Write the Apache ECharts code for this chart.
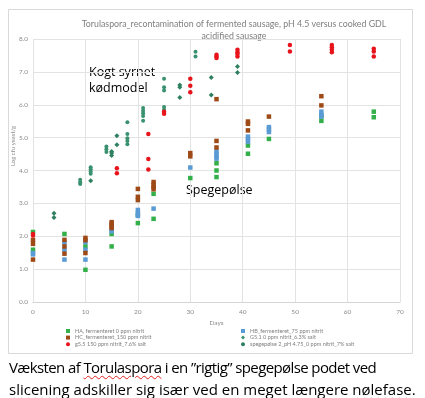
<!DOCTYPE html>
<html lang="da">
<head>
    <meta charset="UTF-8">
    <title>Torulaspora recontamination</title>
    <script src="https://cdn.jsdelivr.net/npm/echarts@6/dist/echarts.min.js"></script>
    <style>
        body {
            margin: 0;
            background: #fff;
        }

        #chart {
            position: absolute;
            left: 0;
            top: 0;
            width: 425px;
            height: 398px;
        }

        .caption {
            position: absolute;
            left: 9px;
            top: 356px;
            width: 416px;
            font-family: "Open Sans", sans-serif;
            font-size: 15px;
            line-height: 22px;
            color: #000;
            white-space: nowrap;
        }

        .caption .l1 { letter-spacing: -0.6px; }
        .caption .l2 { letter-spacing: 0; }

        .caption u {
            text-decoration: underline wavy #e02020;
            text-decoration-thickness: 1px;
            text-underline-offset: 2px;
        }
    </style>
</head>
<body>
    <div id="chart"></div>
    <div class="caption">
        <span class="l1">Væksten af <u>Torulaspora</u> i en ”rigtig” spegepølse podet ved</span><br>
        <span class="l2"><u>slicening</u> adskiller sig især ved en meget længere <u>nølefase</u>.</span>
    </div>

    <script>
        // data: [day, log cfu/g]
        const haData = [
            [0, 2.13], [0, 1.59], [6, 2.07], [10, 1.69], [10, 0.98],
            [15, 2.07], [15, 1.69], [20, 2.65], [20, 2.40], [23, 3.29], [23, 2.53],
            [30, 3.77], [35, 4.22], [35, 4.00], [35, 3.80], [41, 4.76], [41, 4.51],
            [45, 4.96], [55, 5.66], [55, 5.51], [65, 5.79], [65, 5.62]
        ];
        const hbData = [
            [0, 1.49], [0, 1.45], [6, 1.81], [6, 1.59], [6, 1.29],
            [10, 1.82], [10, 1.59], [10, 1.29], [15, 2.20], [15, 2.15],
            [20, 2.80], [20, 2.70], [20, 2.62], [23, 2.84], [30, 4.09],
            [35, 4.58], [35, 4.50], [35, 4.42], [35, 4.36],
            [41, 5.03], [41, 4.95], [41, 4.88], [45, 5.32], [45, 5.25], [45, 5.17],
            [55, 5.79], [55, 5.69], [55, 5.64]
        ];
        const hcData = [
            [0, 1.89], [0, 1.77], [0, 1.29], [6, 1.89], [6, 1.69], [6, 1.47],
            [10, 1.95], [10, 1.88], [10, 1.49], [15, 2.43], [15, 2.37], [15, 2.31], [15, 2.25],
            [20, 3.44], [20, 3.20], [20, 3.10], [23, 3.65], [23, 3.57], [23, 3.50], [23, 3.43],
            [30, 4.53], [30, 4.43], [35, 6.17], [35, 4.90], [35, 4.70],
            [41, 5.49], [41, 5.42], [41, 5.22], [45, 5.64], [55, 6.26], [55, 5.98]
        ];
        const g55Data = [
            [0, 2.07], [0, 2.02], [16, 4.07], [16, 3.92], [22, 5.11], [22, 4.35], [22, 4.03],
            [25, 5.79], [25, 5.73], [30, 6.79], [30, 6.58], [30, 6.38],
            [35, 7.52], [35, 7.47], [35, 7.42], [39, 7.67], [39, 7.60], [39, 7.54], [39, 7.47],
            [49, 7.82], [49, 7.62], [57, 7.82], [57, 7.75], [57, 7.67], [57, 7.60],
            [65, 7.70], [65, 7.62], [65, 7.47]
        ];
        const g51Data = [
            [9, 3.72], [9, 3.64], [9, 3.59], [11, 4.10], [11, 4.04], [11, 3.97], [11, 3.90],
            [14, 4.73], [14, 4.65], [14, 4.56], [18, 5.47], [18, 5.11], [18, 4.98], [18, 4.90], [18, 4.80],
            [21, 5.90], [21, 5.82], [21, 5.74], [21, 5.66], [21, 5.51],
            [25, 6.79], [25, 6.53], [25, 6.43], [25, 5.93], [25, 5.85], [31, 7.61], [31, 7.47]
        ];
        const speg2Data = [
            [4, 2.70], [4, 2.57], [11, 3.69], [15, 4.58], [15, 4.53], [15, 4.46],
            [16, 5.06], [16, 4.78], [28, 6.60], [28, 6.53], [28, 6.22],
            [34, 6.83], [34, 6.30], [39, 7.16], [39, 6.98]
        ];

        const seriesNames = [
            'HA, fermenteret 0 ppm nitrit',
            'HB_fermenteret_75 ppm nitrit',
            'HC_fermenteret_150 ppm nitrit',
            'G5.1 0 ppm nitrit_6.3% salt',
            'g5.5 150 ppm nitrit_7.6% salt',
            'spegepølse 2_pH 4.75_0 ppm nitrit_7% salt'
        ];
        const titleLines = [
            'Torulaspora_recontamination of fermented sausage, pH 4.5 versus cooked GDL',
            'acidified sausage'
        ];

        const gray = '#8c8c8c';
        const gridColor = '#e3e3e3';

        function scatter(name, data, symbol, size, color) {
            return {
                name: name,
                type: 'scatter',
                data: data,
                symbol: symbol,
                symbolSize: size,
                itemStyle: { color: color, opacity: 1 },
                emphasis: { disabled: true }
            };
        }

        const legendStyle = {
            orient: 'vertical',
            top: 328,
            itemWidth: 4,
            itemHeight: 4,
            itemGap: 0.6,
            padding: 0,
            textStyle: { fontSize: 5.5, lineHeight: 5, color: '#7f7f7f', fontFamily: 'Lato' }
        };

        const chart = echarts.init(document.getElementById('chart'));
        chart.setOption({
            animation: false,
            grid: { left: 33, right: 25, top: 39, bottom: 96 },
            xAxis: {
                type: 'value',
                min: 0, max: 70, interval: 10,
                name: 'Days',
                nameLocation: 'middle',
                nameGap: 15,
                nameTextStyle: { fontSize: 6.5, color: gray, fontFamily: 'Lato' },
                axisLine: { show: true, lineStyle: { color: '#d4d4d4' } },
                axisTick: { show: false },
                axisLabel: { fontSize: 6.5, color: gray, margin: 6, fontFamily: 'Lato' },
                splitLine: { show: true, lineStyle: { color: gridColor } }
            },
            yAxis: {
                type: 'value',
                min: 0, max: 8, interval: 1,
                axisLine: { show: false },
                axisTick: { show: false },
                axisLabel: {
                    fontSize: 6.5, color: gray, margin: 5, fontFamily: 'Lato',
                    formatter: v => v.toFixed(1)
                },
                splitLine: { show: true, lineStyle: { color: gridColor } }
            },
            legend: [
                Object.assign({}, legendStyle, {
                    left: 66,
                    data: [
                        { name: seriesNames[0], icon: 'rect' },
                        { name: seriesNames[2], icon: 'rect' },
                        { name: seriesNames[4], icon: 'circle' }
                    ]
                }),
                Object.assign({}, legendStyle, {
                    left: 241,
                    data: [
                        { name: seriesNames[1], icon: 'rect' },
                        { name: seriesNames[3], icon: 'diamond' },
                        { name: seriesNames[5], icon: 'circle' }
                    ]
                })
            ],
            graphic: [
                {
                    type: 'rect', silent: true, z: -10,
                    shape: { x: 8.5, y: 9.5, width: 404, height: 344 },
                    style: { fill: '#fff', stroke: '#d9d9d9', lineWidth: 1 }
                },
                {
                    type: 'text', silent: true,
                    style: {
                        text: titleLines.join('\n'), x: 234, y: 18.5,
                        align: 'center', fontSize: 8.8, lineHeight: 11.5,
                        fill: '#7f7f7f', fontFamily: 'Lato'
                    }
                },
                {
                    type: 'text', silent: true,
                    x: 13, y: 146, rotation: Math.PI / 2,
                    style: {
                        text: 'Log cfu yeast/g', align: 'center', verticalAlign: 'middle',
                        fontSize: 6, fill: gray, fontFamily: 'Lato'
                    }
                },
                {
                    type: 'text', silent: true,
                    style: {
                        text: 'Kogt syrnet\nkødmodel', x: 89, y: 65,
                        fontSize: 12.5, lineHeight: 15.5, fill: '#000', fontFamily: 'Open Sans'
                    }
                },
                {
                    type: 'text', silent: true,
                    style: {
                        text: 'Spegepølse', x: 186, y: 183,
                        fontSize: 12.5, lineHeight: 15.5, fill: '#000', fontFamily: 'Open Sans'
                    }
                }
            ],
            series: [
                scatter(seriesNames[0], haData, 'rect', 4.5, '#33b04a'),
                scatter(seriesNames[1], hbData, 'rect', 4.5, '#5b9bd5'),
                scatter(seriesNames[2], hcData, 'rect', 4.5, '#9e4a17'),
                scatter(seriesNames[3], g51Data, 'circle', 4, '#3a9170'),
                scatter(seriesNames[4], g55Data, 'circle', 4.5, '#e8141c'),
                scatter(seriesNames[5], speg2Data, 'diamond', 5, '#2f8060')
            ]
        });
    </script>
</body>
</html>
